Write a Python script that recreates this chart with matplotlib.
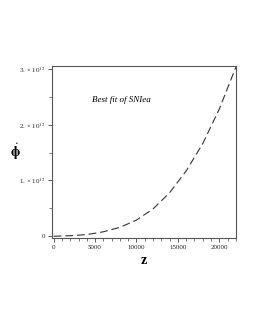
import matplotlib
matplotlib.use("Agg")
import matplotlib.pyplot as plt
from matplotlib.ticker import MultipleLocator

plt.rcParams['font.family'] = ['Liberation Serif', 'DejaVu Serif']
plt.rcParams['mathtext.fontset'] = 'stix'

z_vals = [0, 2000, 4000, 6000, 8000, 10000, 12000, 14000, 16000, 18000, 20000, 22000]
phi_vals = [0.0, 0.01, 0.03, 0.08, 0.16, 0.29, 0.49, 0.78, 1.17, 1.66, 2.28, 3.03]  # x 1e12
scale = 1e12
y_ticks = [0, 1e12, 2e12, 3e12]
y_tick_labels = ['0', r'1. × 10$^{12}$', r'2. × 10$^{12}$', r'3. × 10$^{12}$']
x_ticks = [0, 5000, 10000, 15000, 20000]
x_tick_labels = ['0', '5000', '10000', '15000', '20000']

fig = plt.figure(figsize=(2.55, 3.3), dpi=100)
ax = fig.add_axes([0.204, 0.279, 0.721, 0.521])

ax.plot(z_vals, [v * scale for v in phi_vals], color='#333333', lw=0.8,
        dashes=(7, 3.5))
ax.set_xlim(-200, 22000)
ax.set_ylim(-0.03e12, 3.05e12)

ax.set_xticks(x_ticks)
ax.set_xticklabels(x_tick_labels)
ax.set_yticks(y_ticks)
ax.set_yticklabels(y_tick_labels)
ax.xaxis.set_minor_locator(MultipleLocator(1000))
ax.yaxis.set_minor_locator(MultipleLocator(0.5e12))
ax.tick_params(axis='both', which='major', labelsize=5, length=3, width=0.6,
               colors='#444444', labelcolor='#222222', pad=2, direction='out')
ax.tick_params(axis='both', which='minor', length=2, width=0.5,
               colors='#444444', direction='out')
for s in ax.spines.values():
    s.set_color('#555555')
    s.set_linewidth(0.8)

ax.set_xlabel('z', fontsize=10, labelpad=3, fontweight='bold')
fig.text(0.06, 0.54, r'$\dot{\mathbf{\phi}}$', fontsize=10, ha='center', va='center')
ax.text(0.22, 0.8, 'Best fit of SNIea', transform=ax.transAxes, fontsize=6.5,
        style='italic', ha='left', va='center')

fig.savefig('out.png', dpi=100)
